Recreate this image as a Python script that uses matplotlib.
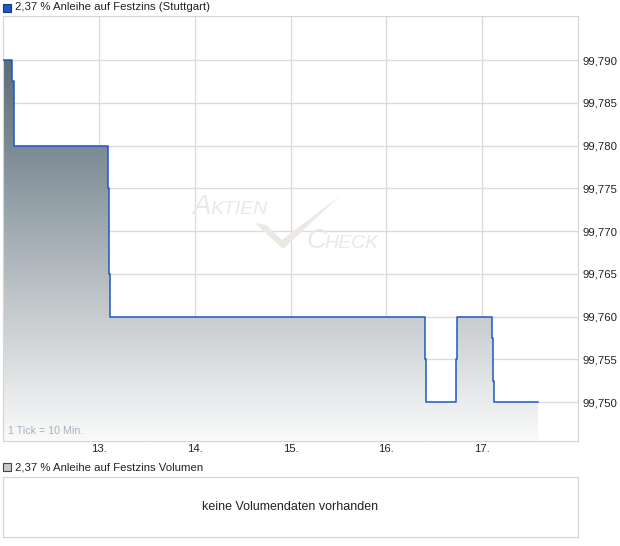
import numpy as np
import matplotlib.pyplot as plt
from matplotlib.colors import LinearSegmentedColormap
from matplotlib.patches import Rectangle, Polygon

plt.rcParams['font.family'] = ['Liberation Sans', 'DejaVu Sans']

# Kursverlauf (Tage als Dezimalzahl, Stuttgart)
zeit = [12.0, 12.094, 12.110, 12.115, 13.097, 13.107, 13.117,
        16.407, 16.413, 16.731, 16.741, 17.107, 17.117, 17.128, 17.587]
kurs = [99.790, 99.7875, 99.7825, 99.780, 99.775, 99.765, 99.760,
        99.755, 99.750, 99.755, 99.760, 99.7575, 99.7525, 99.750, 99.750]

x_ticks = [13, 14, 15, 16, 17]
x_labels = ['13.', '14.', '15.', '16.', '17.']
y_ticks = [99.750, 99.755, 99.760, 99.765, 99.770, 99.775, 99.780, 99.785, 99.790]
y_labels = ['99,750', '99,755', '99,760', '99,765', '99,770', '99,775', '99,780', '99,785', '99,790']

W, H = 620, 546
fig = plt.figure(figsize=(W / 100, H / 100), dpi=100)

def fx(px):
    return px / W

def fy(py):
    return 1 - py / H

ax = fig.add_axes([fx(3), fy(441), fx(575), 425 / H])
ymin, ymax = 99.74544, 99.79515
ax.set_xlim(12.0, 18.0)
ax.set_ylim(ymin, ymax)

# Gitter
ax.set_xticks(x_ticks)
ax.set_xticklabels(x_labels)
ax.set_yticks(y_ticks)
ax.set_yticklabels(y_labels)
ax.yaxis.tick_right()
ax.tick_params(axis='both', length=0, labelsize=8.2, colors='#222222')
ax.tick_params(axis='y', pad=3)
ax.tick_params(axis='x', pad=2)
ax.grid(True, color='#dcdcdc', linewidth=1)
ax.set_axisbelow(True)
for s in ax.spines.values():
    s.set_color('#d4d4d4')

# Flaeche unter der Stufenlinie mit Farbverlauf
sx = [zeit[0]]
sy = [kurs[0]]
for i in range(1, len(zeit)):
    sx += [zeit[i], zeit[i]]
    sy += [kurs[i - 1], kurs[i]]
poly_pts = list(zip(sx, sy)) + [(zeit[-1], ymin), (zeit[0], ymin)]
poly = Polygon(poly_pts, closed=True, facecolor='none', edgecolor='none', transform=ax.transData)
ax.add_patch(poly)
cmap = LinearSegmentedColormap.from_list('verlauf', [
    (0.0, '#4e5e69'), (0.3, '#7a8993'), (0.7, '#c6cbce'), (1.0, '#fafafa')])
grad = np.linspace(0, 1, 256).reshape(-1, 1)
img = ax.imshow(grad, cmap=cmap, aspect='auto', extent=[12.0, 18.0, ymin, ymax],
                origin='upper', zorder=2)
img.set_clip_path(poly)

ax.plot(zeit, kurs, drawstyle='steps-post', color='#1c58c4', linewidth=1.1, zorder=3)

# Wasserzeichen
wm = '#ece8e4'
fig.text(fx(192), fy(214), 'A', fontsize=20, style='italic', color=wm, zorder=1)
fig.text(fx(210), fy(214), 'KTIEN', fontsize=14, style='italic', color=wm, zorder=1)
fig.text(fx(306), fy(248), 'C', fontsize=20, style='italic', color=wm, zorder=1)
fig.text(fx(324), fy(248), 'HECK', fontsize=14, style='italic', color=wm, zorder=1)
chk = Polygon([(fx(255), fy(223)), (fx(266), fy(225)), (fx(282), fy(240)),
               (fx(341), fy(195)), (fx(283), fy(249))], closed=True,
              facecolor=wm, edgecolor='none', transform=fig.transFigure, zorder=1)
fig.patches.append(chk)

ax.text(0.008, 0.016, '1 Tick = 10 Min.', transform=ax.transAxes, fontsize=7.7,
        color='#a7b1c2', zorder=4)

# Legende oben
fig.patches.append(Rectangle((fx(3), fy(12)), fx(8), 8 / H, transform=fig.transFigure,
                             facecolor='#1f5bc4', edgecolor='#123a80', linewidth=0.8))
fig.text(fx(15), fy(7.5), '2,37 % Anleihe auf Festzins (Stuttgart)', fontsize=8.2,
         va='center', color='#222222')

# Volumen-Panel
fig.patches.append(Rectangle((fx(3), fy(471)), fx(8), 8 / H, transform=fig.transFigure,
                             facecolor='#c8c8c8', edgecolor='#444444', linewidth=0.8))
fig.text(fx(15), fy(467), '2,37 % Anleihe auf Festzins Volumen', fontsize=8.2,
         va='center', color='#222222')
ax2 = fig.add_axes([fx(3), fy(537), fx(575), 60 / H])
ax2.set_xticks([])
ax2.set_yticks([])
for s in ax2.spines.values():
    s.set_color('#d4d4d4')
ax2.text(0.5, 0.5, 'keine Volumendaten vorhanden', transform=ax2.transAxes,
         ha='center', va='center', fontsize=9, color='#222222')

fig.savefig('out.png', dpi=100)
